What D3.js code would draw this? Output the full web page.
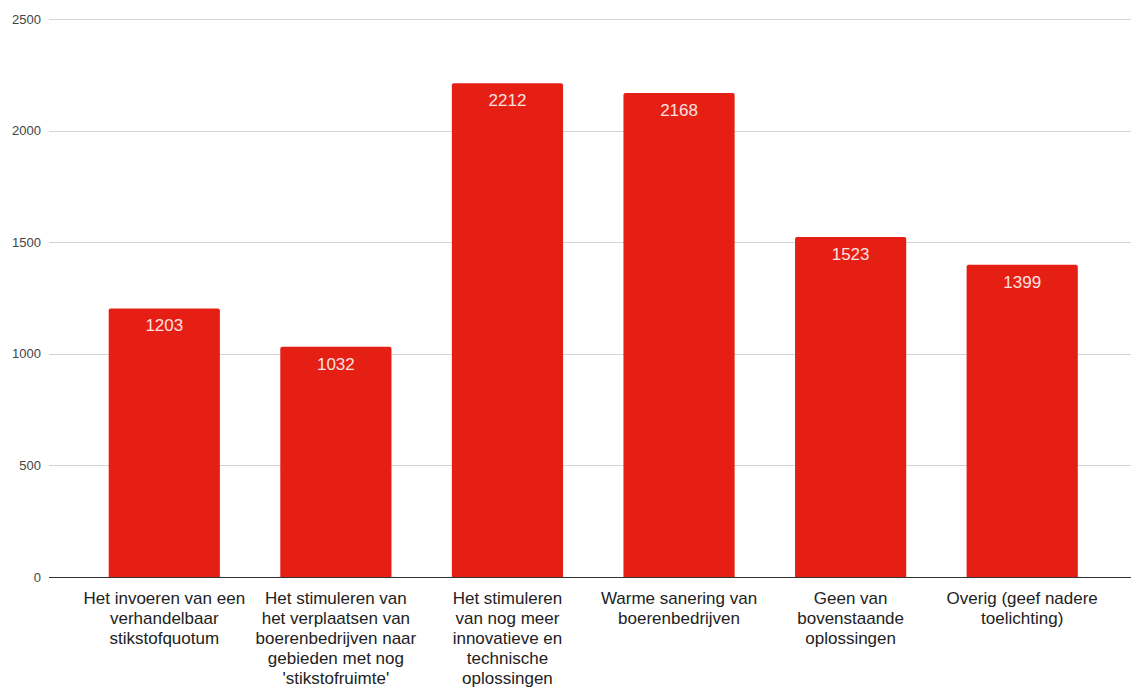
<!DOCTYPE html>
<html>
<head>
<meta charset="utf-8">
<script src="https://cdn.jsdelivr.net/npm/d3@7"></script>
<style>
  html, body { margin: 0; padding: 0; background: #fff; }
  svg { display: block; font-family: "Liberation Sans", Arial, sans-serif; }
</style>
</head>
<body>
<svg id="chart" width="1131" height="689"></svg>
<script>
const categories = [
  "Het invoeren van een\nverhandelbaar\nstikstofquotum",
  "Het stimuleren van\nhet verplaatsen van\nboerenbedrijven naar\ngebieden met nog\n'stikstofruimte'",
  "Het stimuleren\nvan nog meer\ninnovatieve en\ntechnische\noplossingen",
  "Warme sanering van\nboerenbedrijven",
  "Geen van\nbovenstaande\noplossingen",
  "Overig (geef nadere\ntoelichting)"
];
const values = [1203, 1032, 2212, 2168, 1523, 1399];
const yTicks = [0, 500, 1000, 1500, 2000, 2500];

const svg = d3.select("#chart");
const plotLeft = 49, plotRight = 1131;

const x = d3.scaleBand()
  .domain(categories)
  .range([78.5, 1108])
  .paddingInner(0.352)
  .paddingOuter(0.176);

const y = d3.scaleLinear().domain([0, 2500]).range([577, 19]);

// gridlines
svg.append("g").selectAll("line")
  .data(yTicks.filter(d => d !== 0))
  .join("line")
  .attr("x1", plotLeft).attr("x2", plotRight)
  .attr("y1", d => Math.round(y(d)) + 0.5).attr("y2", d => Math.round(y(d)) + 0.5)
  .attr("stroke", "#d4d4d4").attr("stroke-width", 1);

// y axis labels
const yAxis = d3.axisLeft(y).tickValues(yTicks).tickFormat(d3.format("d")).tickSize(0).tickPadding(0);
const gy = svg.append("g").attr("transform", `translate(41,0)`).call(yAxis);
gy.select(".domain").remove();
gy.selectAll("text")
  .attr("font-family", "Liberation Sans, Arial, sans-serif")
  .attr("font-size", 13).attr("fill", "#444");

// bars
const barColor = "#e51f14";
svg.append("g").selectAll("path")
  .data(values)
  .join("path")
  .attr("fill", barColor)
  .attr("d", (d, i) => {
    const x0 = x(categories[i]), w = x.bandwidth();
    const top = y(d), bot = y(0), r = 2;
    return `M${x0},${bot} L${x0},${top + r} Q${x0},${top} ${x0 + r},${top} L${x0 + w - r},${top} Q${x0 + w},${top} ${x0 + w},${top + r} L${x0 + w},${bot} Z`;
  });

// baseline
svg.append("line")
  .attr("x1", plotLeft).attr("x2", plotRight)
  .attr("y1", y(0) + 0.5).attr("y2", y(0) + 0.5)
  .attr("stroke", "#333").attr("stroke-width", 1);

// value labels
svg.append("g").selectAll("text")
  .data(values)
  .join("text")
  .attr("x", (d, i) => x(categories[i]) + x.bandwidth() / 2)
  .attr("y", d => y(d) + 23)
  .attr("text-anchor", "middle")
  .attr("font-size", 17)
  .attr("fill", "#fbe2e0")
  .text(d => d);

// category labels
const xAxis = d3.axisBottom(x).tickSize(0).tickFormat("");
const gx = svg.append("g").attr("transform", `translate(0,${y(0)})`).call(xAxis);
gx.select(".domain").remove();
gx.selectAll(".tick").each(function(d) {
  const lines = d.split("\n");
  const t = d3.select(this).append("text")
    .attr("text-anchor", "middle")
    .attr("font-size", 17)
    .attr("fill", "#222")
    .attr("font-family", "Liberation Sans, Arial, sans-serif");
  lines.forEach((ln, k) => {
    t.append("tspan").attr("x", 0).attr("y", 26.5 + k * 20.2).text(ln);
  });
});
</script>
</body>
</html>
